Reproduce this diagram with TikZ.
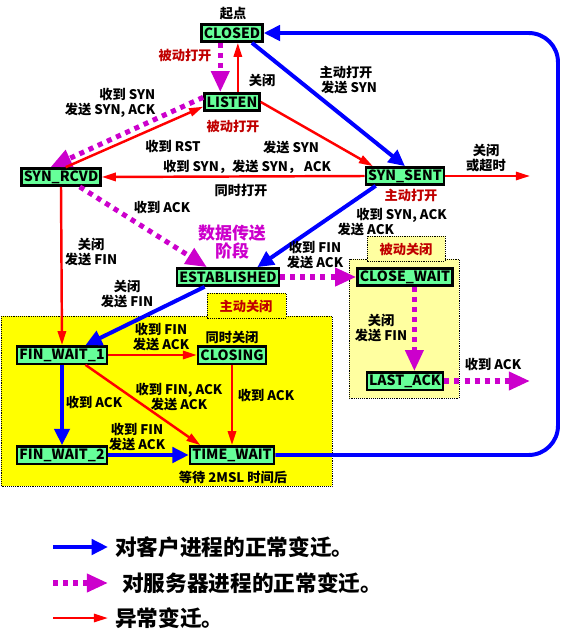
\documentclass[tikz,border=0pt]{standalone}
\usepackage{fontspec}
\setmainfont{Noto Sans CJK SC}
\usepackage{tikz}
\usetikzlibrary{arrows.meta}
\definecolor{stategreen}{RGB}{102, 255, 153}
\definecolor{clientblue}{RGB}{0, 0, 255}
\definecolor{servermagenta}{RGB}{204, 0, 204}
\definecolor{abnormalred}{RGB}{255, 0, 0}
\definecolor{notered}{RGB}{192, 0, 0}
\definecolor{activeyellow}{RGB}{255, 255, 0}
\definecolor{passiveyellow}{RGB}{255, 255, 160}
\newcommand\statefont{\fontsize{12pt}{13pt}\selectfont\bfseries}
\newcommand\lblfont{\fontsize{11.3pt}{12.8pt}\selectfont\bfseries}
\newcommand\keyfont{\fontsize{18.5pt}{20pt}\selectfont\bfseries}

\tikzset{
  state/.style    = {
    draw        = black,
    line width  = 2pt,
    fill        = stategreen,
    font        = \statefont,
    inner xsep  = 2pt,
    inner ysep  = 0pt,
    minimum height = 0.52cm
  },
  client/.style   = {
    draw        = clientblue,
    line width  = 3.4pt,
    -{Triangle[length=14pt, width=13pt]}
  },
  server/.style   = {
    draw        = servermagenta,
    line width  = 4.3pt,
    dash pattern = on 4.3pt off 4.3pt,
    -{Triangle[length=18pt, width=15pt]}
  },
  abnormal/.style = {
    draw        = abnormalred,
    line width  = 2.1pt,
    -{Triangle[length=12pt, width=7pt]}
  },
  lbl/.style      = {
    font        = \lblfont,
    align       = center,
    inner sep   = 0pt
  },
  note/.style     = {lbl, text = notered},
  zone/.style     = {
    draw        = black,
    line width  = 0.6pt,
    densely dotted
  }
}

\begin{document}
\begin{tikzpicture}[x=0.03cm, y=-0.03cm]
  \useasboundingbox (0,0) rectangle (563,641);

  \draw[zone, fill=activeyellow]  (1,316) rectangle (332,486);
  \draw[zone, fill=activeyellow]  (207,293) rectangle (286,318);
  \draw[zone, fill=passiveyellow] (349,259) rectangle (459,398);
  \draw[zone, fill=passiveyellow] (367,236) rectangle (445,261);
  \node[note] (activeclose)  at (246,306) {主动关闭};
  \node[note] (passiveclose) at (406,249) {被动关闭};

  \node[state] (CLOSED)      at (232,33)  {CLOSED};
  \node[state] (LISTEN)      at (232,102) {LISTEN};
  \node[state] (SYN_RCVD)    at (61,177)  {SYN\_RCVD};
  \node[state] (SYN_SENT)    at (405,176) {SYN\_SENT};
  \node[state] (ESTABLISHED) at (228,277) {ESTABLISHED};
  \node[state] (CLOSE_WAIT)  at (405,277) {CLOSE\_WAIT};
  \node[state] (LAST_ACK)    at (405,381) {LAST\_ACK};
  \node[state] (FIN_WAIT_1)  at (62,355)  {FIN\_WAIT\_1};
  \node[state] (CLOSING)     at (232,355) {CLOSING};
  \node[state] (FIN_WAIT_2)  at (62,455)  {FIN\_WAIT\_2};
  \node[state] (TIME_WAIT)   at (232,455) {TIME\_WAIT};

  \coordinate (sentout) at (530,176);
  \coordinate (lastout) at (530,381);

  \draw[server]   ([xshift=-10pt]CLOSED.south) -- ([xshift=-10pt]LISTEN.north);
  \draw[abnormal] ([xshift=5pt]LISTEN.north) -- ([xshift=5pt]CLOSED.south);
  \draw[client]   ([xshift=-10pt]CLOSED.south east) -- (SYN_SENT.north);
  \draw[abnormal] (LISTEN.east) -- ([xshift=7pt]SYN_SENT.north west);
  \draw[server]   ([yshift=4pt]LISTEN.west) -- ([xshift=-9pt]SYN_RCVD.north);
  \draw[abnormal] ([xshift=4pt]SYN_RCVD.north) -- ([yshift=-4pt]LISTEN.west);
  \draw[abnormal] (SYN_SENT.west) -- (SYN_RCVD.east);
  \draw[abnormal] (SYN_SENT.east) -- (sentout);
  \draw[client]   ([xshift=-25pt]SYN_SENT.south) -- ([xshift=25pt]ESTABLISHED.north);
  \draw[server]   ([xshift=16pt]SYN_RCVD.south) -- ([xshift=-18pt]ESTABLISHED.north);
  \draw[abnormal] (SYN_RCVD.south) -- (FIN_WAIT_1.north);
  \draw[client]   ([xshift=-20pt]ESTABLISHED.south) -- ([xshift=20pt]FIN_WAIT_1.north);
  \draw[server]   (ESTABLISHED.east) -- (CLOSE_WAIT.west);
  \draw[server]   ([xshift=8pt]CLOSE_WAIT.south) -- ([xshift=8pt]LAST_ACK.north);
  \draw[server]   (LAST_ACK.east) -- (lastout);
  \draw[abnormal] (FIN_WAIT_1.east) -- (CLOSING.west);
  \draw[abnormal] ([xshift=20pt]FIN_WAIT_1.south) -- ([xshift=-27pt]TIME_WAIT.north);
  \draw[abnormal] (CLOSING.south) -- (TIME_WAIT.north);
  \draw[client]   (FIN_WAIT_1.south) -- (FIN_WAIT_2.north);
  \draw[client]   (FIN_WAIT_2.east) -- (TIME_WAIT.west);
  \draw[client, rounded corners=25pt] (TIME_WAIT.east) -- (558,455) -- (558,33) -- (CLOSED.east);

  \node[lbl]  (start)      at (233,14)  {起点};
  \node[note] (passopen)   at (185,55)  {被动打开};
  \node[lbl]  (closelisten) at (262,80) {关闭};
  \node[lbl]  (activeopen) at (346,80)  {主动打开\\\ \ 发送 SYN};
  \node[lbl, align=right] (synrcvd) at (110,103) {收到 SYN\\发送 SYN, ACK};
  \node[note] (listennote) at (233,126) {被动打开};
  \node[lbl]  (rst)        at (173,146) {收到 RST};
  \node[lbl]  (sendsyn)    at (291,147) {发送 SYN};
  \node[lbl]  (simsyn)     at (247,167) {收到 SYN，发送 SYN， ACK};
  \node[lbl]  (simopen)    at (241,190) {同时打开};
  \node[lbl]  (timeout)    at (486,158) {关闭\\或超时};
  \node[note] (sentnote)   at (411,195) {主动打开};
  \node[lbl]  (synack)     at (387,222) {\hspace*{2.2em}收到 SYN, ACK\\发送 ACK\hspace*{3.2em}};
  \node[lbl]  (gotack)     at (162,207) {收到 ACK};
  \node[lbl, text=servermagenta, font=\fontsize{14.5pt}{16pt}\selectfont\bfseries]
              (datastage)  at (232,242) {数据传送\\阶段};
  \node[lbl]  (rcvdclose)  at (91,252)  {关闭\\发送 FIN};
  \node[lbl]  (estclose)   at (127,294) {关闭\\发送 FIN};
  \node[lbl]  (estfin)     at (315,255) {收到 FIN\\发送 ACK};
  \node[lbl]  (cwclose)    at (381,328) {关闭\\发送 FIN};
  \node[lbl]  (lastack)    at (493,364) {收到 ACK};
  \node[lbl]  (fw1fin)     at (161,337) {收到 FIN\\发送 ACK};
  \node[lbl]  (simclose)   at (232,337) {同时关闭};
  \node[lbl]  (finack)     at (179,397) {收到 FIN, ACK\\发送 ACK};
  \node[lbl]  (closingack) at (266,395) {收到 ACK};
  \node[lbl]  (fw1ack)     at (94,402)  {收到 ACK};
  \node[lbl]  (fw2fin)     at (137,437) {收到 FIN\\发送 ACK};
  \node[lbl]  (msl)        at (233,477) {等待 2MSL 时间后};

  \coordinate (keyAfrom) at (53,547);  \coordinate (keyAto) at (108,547);
  \coordinate (keyBfrom) at (53,583);  \coordinate (keyBto) at (108,583);
  \coordinate (keyCfrom) at (53,618);  \coordinate (keyCto) at (108,618);
  \draw[client]   (keyAfrom) -- (keyAto);
  \draw[server]   (keyBfrom) -- (keyBto);
  \draw[abnormal] (keyCfrom) -- (keyCto);
  \node[anchor=west, font=\keyfont, inner sep=0pt] (keyA) at (115,547) {对客户进程的正常变迁。};
  \node[anchor=west, font=\keyfont, inner sep=0pt] (keyB) at (122,583) {对服务器进程的正常变迁。};
  \node[anchor=west, font=\keyfont, inner sep=0pt] (keyC) at (115,618) {异常变迁。};
\end{tikzpicture}
\end{document}
